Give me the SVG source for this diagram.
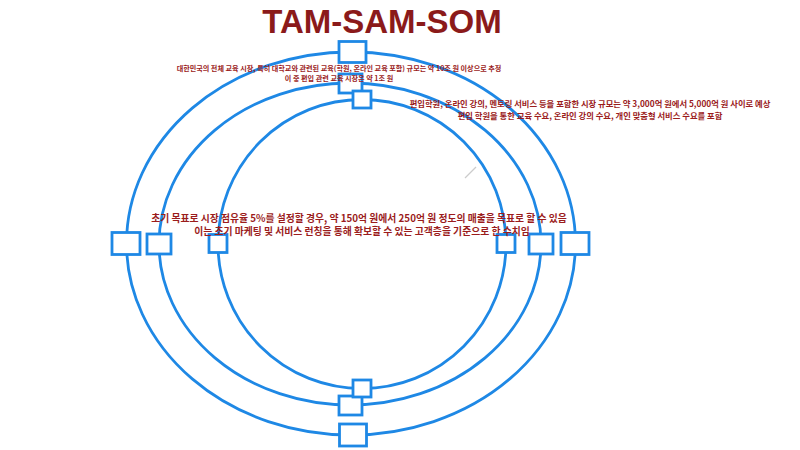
<svg xmlns="http://www.w3.org/2000/svg" width="800" height="450" viewBox="0 0 800 450">
  <style>
    .ring { fill: none; stroke: #1e88e5; stroke-width: 2.8; }
    .box { fill: #ffffff; stroke: #1e88e5; stroke-width: 2.8; }
    .title { font-family: "Liberation Sans", Arial, sans-serif; font-weight: 700; font-size: 33px; fill: #8b1a1a; text-anchor: middle; }
    .note { font-family: "Noto Sans CJK KR", "Noto Sans", sans-serif; font-weight: 700; fill: #9b1c1c; text-anchor: middle; }
  </style>
  <rect width="800" height="450" fill="#ffffff"/>

  <g id="connectors">
    <ellipse id="ring-tam" class="ring" cx="351" cy="243.5" rx="224.5" ry="191.5"/>
    <ellipse id="ring-sam" class="ring" cx="350" cy="244" rx="191" ry="161"/>
    <ellipse id="ring-som" class="ring" cx="362" cy="244" rx="144" ry="144.5"/>
    <line x1="465" y1="178" x2="476" y2="167" stroke="#cccccc" stroke-width="1.2"/>
  </g>

  <g id="tam-top"><rect class="box" x="339" y="41.5" width="27" height="21"/></g>
  <g id="tam-left"><rect class="box" x="112" y="232.5" width="28" height="22"/></g>
  <g id="tam-right"><rect class="box" x="561" y="232.5" width="28" height="22"/></g>
  <g id="tam-bottom"><rect class="box" x="339.5" y="424" width="27" height="22"/></g>

  <g id="sam-top"><rect class="box" x="339" y="74" width="23" height="19"/></g>
  <g id="sam-left"><rect class="box" x="147" y="234" width="24" height="20"/></g>
  <g id="sam-right"><rect class="box" x="529" y="234" width="24" height="20"/></g>
  <g id="sam-bottom"><rect class="box" x="339" y="396" width="23" height="19"/></g>

  <g id="som-top"><rect class="box" x="353" y="91" width="18" height="17"/></g>
  <g id="som-left"><rect class="box" x="209" y="234.5" width="18" height="18"/></g>
  <g id="som-right"><rect class="box" x="497" y="234.5" width="18" height="18"/></g>
  <g id="som-bottom"><rect class="box" x="353" y="380" width="18" height="17"/></g>

  <g id="title"><text class="title" x="382" y="33">TAM-SAM-SOM</text></g>

  <g id="tam-label">
    <text class="note" font-size="7.1" x="339" y="70.5">대한민국의 전체 교육 시장, 특히 대학교와 관련된 교육(학원, 온라인 교육 포함) 규모는 약 10조 원 이상으로 추정</text>
    <text class="note" font-size="7.1" x="339" y="80.5">이 중 편입 관련 교육 시장은 약 1조 원</text>
  </g>

  <g id="sam-label">
    <text class="note" font-size="8.3" x="590" y="106.5">편입학원, 온라인 강의, 멘토링 서비스 등을 포함한 시장 규모는 약 3,000억 원에서 5,000억 원 사이로 예상</text>
    <text class="note" font-size="8.3" x="590" y="118.5">편입 학원을 통한 교육 수요, 온라인 강의 수요, 개인 맞춤형 서비스 수요를 포함</text>
  </g>

  <g id="som-label">
    <text class="note" font-size="9.8" x="359" y="221.5">초기 목표로 시장 점유율 5%를 설정할 경우, 약 150억 원에서 250억 원 정도의 매출을 목표로 할 수 있음</text>
    <text class="note" font-size="9.8" x="362" y="235">이는 초기 마케팅 및 서비스 런칭을 통해 확보할 수 있는 고객층을 기준으로 한 수치임</text>
  </g>
</svg>
